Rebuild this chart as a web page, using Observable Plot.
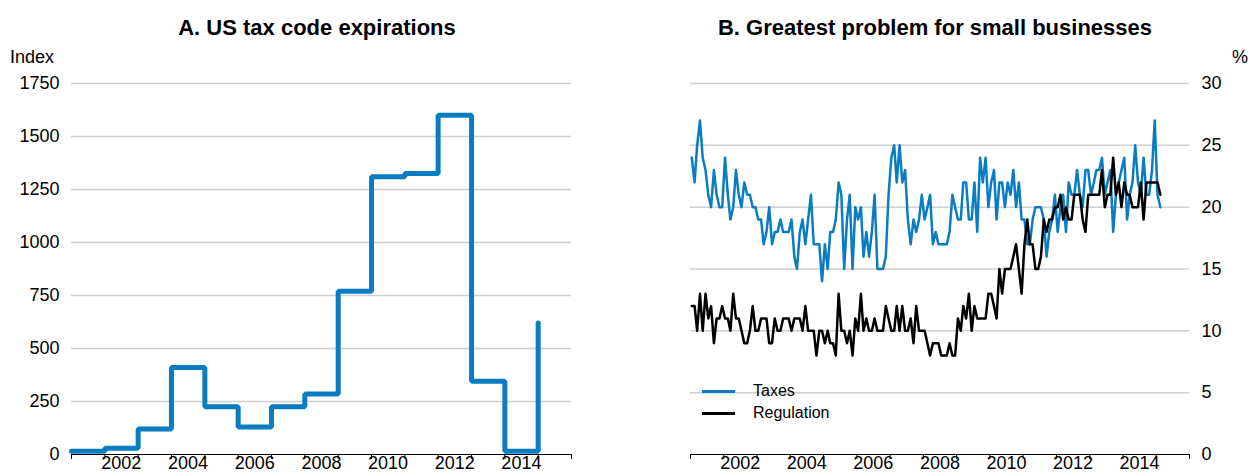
<!DOCTYPE html>
<html><head><meta charset="utf-8">
<script src="https://cdn.jsdelivr.net/npm/d3@7"></script>
<script src="https://cdn.jsdelivr.net/npm/@observablehq/plot@0.6"></script>
<style>
body{margin:0;background:#fff;}
#wrap{position:relative;width:1250px;height:473px;overflow:hidden;font-family:"Liberation Sans",Arial,sans-serif;color:#000;}
.title{position:absolute;top:17px;font-weight:bold;font-size:22px;line-height:22px;white-space:nowrap;transform:translateX(-50%);}
.unit{position:absolute;top:48px;font-size:18px;line-height:18px;}
.panel{position:absolute;top:40px;}
.leg{position:absolute;font-size:16px;line-height:16px;left:753px;}
.sw{position:absolute;left:702px;width:33px;height:3px;}
</style></head>
<body>
<div id="wrap">
  <div class="title" style="left:317px">A. US tax code expirations</div>
  <div class="title" style="left:935px">B. Greatest problem for small businesses</div>
  <div class="unit" style="left:10px">Index</div>
  <div class="unit" style="left:1232px">%</div>
  <div class="panel" id="pa" style="left:0px"></div>
  <div class="panel" id="pb" style="left:640px"></div>
  <div class="sw" style="top:389.5px;background:#0a7dc2"></div>
  <div class="leg" style="top:383px">Taxes</div>
  <div class="sw" style="top:411.5px;background:#000"></div>
  <div class="leg" style="top:405px">Regulation</div>
</div>
<script>
// ---- Data ----
const BLUE = "#0a7dc2";
const taxYears = [2001,2002,2003,2004,2005,2006,2007,2008,2009,2010,2011,2012,2013,2014,2015];
const taxIndex = [15,30,120,410,225,130,225,285,770,1310,1325,1600,345,15,620];

const surveyStart = "2001-01"; // monthly survey, Jan 2001 – Feb 2015
const taxesPct = [24,22,25,27,24,23,21,20,23,21,20,20,
 24,21,19,20,23,21,20,22,21,21,20,20,
 19,19,17,18,20,17,18,18,19,18,18,18,
 19,16,15,18,19,17,19,21,17,17,17,14,
 17,15,18,18,19,22,21,15,19,21,15,20,
 19,20,16,18,16,18,21,15,15,15,16,21,
 24,25,22,25,22,23,19,17,19,18,19,21,
 19,20,21,17,18,17,17,17,17,18,21,20,
 19,19,22,22,19,19,22,18,24,22,24,20,
 22,23,19,22,22,20,22,21,23,20,22,19,
 19,17,17,19,20,20,20,19,16,18,19,21,
 18,20,21,18,22,21,21,23,21,20,23,23,
 21,22,23,23,24,21,22,23,18,21,22,23,
 24,19,21,22,25,22,21,24,21,21,23,27,
 21,20];
const regulationPct = [12,12,10,13,10,13,11,12,9,11,11,12,
 11,11,10,13,11,11,10,9,9,10,12,10,
 10,11,11,11,9,9,11,10,10,11,11,11,
 10,11,11,11,10,12,10,10,10,8,10,10,
 9,10,9,9,8,13,10,10,9,10,8,11,
 10,13,10,11,10,10,11,10,10,10,12,11,
 10,10,12,10,12,10,10,11,9,12,10,10,
 10,9,8,9,9,9,8,8,8,9,8,8,
 11,10,12,11,13,10,12,11,11,11,11,13,
 13,12,11,15,13,15,15,15,16,17,15,13,
 17,19,17,17,15,15,16,19,18,19,19,20,
 20,21,19,20,19,19,21,21,21,19,18,21,
 21,21,21,21,23,20,21,21,24,21,22,20,
 22,21,21,20,20,20,22,19,22,22,22,22,
 22,21];

const yTicksA = [0,250,500,750,1000,1250,1500,1750];
const yTicksB = [0,5,10,15,20,25,30];
const xLabelYears = [2002,2004,2006,2008,2010,2012,2014];
const xTickYears = [2001,2002,2003,2004,2005,2006,2007,2008,2009,2010,2011,2012,2013,2014,2015,2016];

// ---- Derived tables ----
const yr = y => new Date(Date.UTC(y,0,1));
const midYr = y => new Date(Date.UTC(y,6,1));
const xDomain = [yr(2001), yr(2016)];
const rowsA = taxYears.map((y,i) => ({date: yr(y), value: taxIndex[i]}));
const start = new Date(surveyStart + "-01T00:00:00Z");
const rowsB = taxesPct.map((t,i) => ({
  date: d3.utcDay.offset(d3.utcMonth.offset(start, i), 14),
  taxes: t, regulation: regulationPct[i]
}));

const style = {fontFamily:"'Liberation Sans', Arial, sans-serif", fontSize:"18px", color:"#000", background:"transparent", overflow:"visible"};
const plain = d => String(d);
const xMarks = () => [
  Plot.ruleY([0], {stroke:"#000", strokeWidth:1.2}),
  Plot.axisX(xTickYears.map(yr), {tickSize:5, tickFormat:()=>"", label:null}),
  Plot.axisX(xLabelYears.map(midYr), {tickSize:0, tickPadding:2, tickFormat:d=>String(d.getUTCFullYear()), label:null})
];

const chartA = Plot.plot({
  width:620, height:433, marginLeft:71, marginRight:49, marginTop:43, marginBottom:19,
  style,
  x:{type:"utc", domain:xDomain},
  y:{domain:[0,1750]},
  marks:[
    Plot.gridY(yTicksA.filter(d=>d>0), {stroke:"#cfcfcf", strokeOpacity:1, strokeWidth:1.5}),
    Plot.axisY(yTicksA, {anchor:"left", tickSize:0, tickPadding:12, tickFormat:plain, label:null}),
    ...xMarks(),
    Plot.line(rowsA, {x:"date", y:"value", curve:"step-after", stroke:BLUE, strokeWidth:5, strokeLinejoin:"miter"})
  ]
});
document.getElementById("pa").appendChild(chartA);

const chartB = Plot.plot({
  width:610, height:433, marginLeft:50, marginRight:61, marginTop:43, marginBottom:19,
  style,
  x:{type:"utc", domain:xDomain},
  y:{domain:[0,30]},
  marks:[
    Plot.gridY(yTicksB.filter(d=>d>0), {stroke:"#cfcfcf", strokeOpacity:1, strokeWidth:1.5}),
    Plot.axisY(yTicksB, {anchor:"right", tickSize:0, tickPadding:12, tickFormat:plain, label:null}),
    ...xMarks(),
    Plot.line(rowsB, {x:"date", y:"taxes", stroke:BLUE, strokeWidth:2.5}),
    Plot.line(rowsB, {x:"date", y:"regulation", stroke:"#000", strokeWidth:2.5})
  ]
});
document.getElementById("pb").appendChild(chartB);
</script>
</body></html>
